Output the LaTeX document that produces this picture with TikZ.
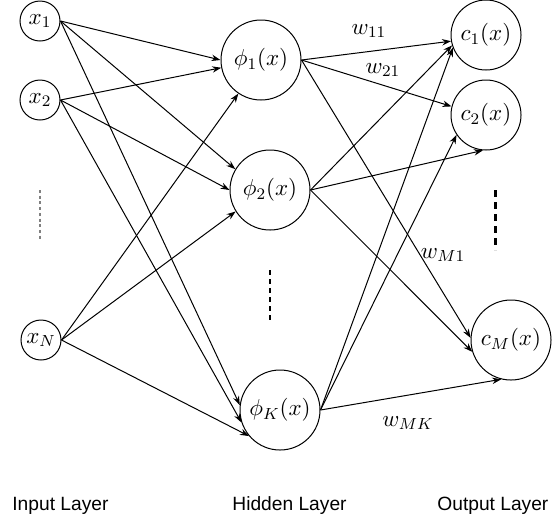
\RequirePackage{fix-cm}
\documentclass[tikz,border=0pt]{standalone}
\usepackage{fontspec}
\setsansfont{Liberation Sans}
\usetikzlibrary{arrows.meta}
\begin{document}
\begin{tikzpicture}[x=0.5pt,y=-0.5pt,
  neuron/.style={draw, circle, inner sep=0pt, line width=0.5pt, font=\fontsize{11.5}{13}\selectfont},
  conn/.style={-{Stealth[length=4.5pt,width=3.2pt]}, line width=0.5pt},
  wlab/.style={inner sep=0pt, font=\fontsize{11.5}{13}\selectfont},
  layerlab/.style={inner sep=0pt, anchor=west, font=\fontsize{9.6}{11}\selectfont\sffamily},
  dotsin/.style={draw=black!50, line width=0.9pt, dash pattern=on 1.5pt off 1.35pt},
  dotsbold/.style={draw=black, line width=1pt, dash pattern=on 2.5pt off 2pt},
  dotsout/.style={draw=black, line width=1.5pt, dash pattern=on 3.5pt off 2.5pt}]
\useasboundingbox (0,0) rectangle (560,521);

% input layer
\node[neuron, minimum size=20pt] (x1) at (40,21) {$x_1$};
\node[neuron, minimum size=20pt] (x2) at (40,100) {$x_2$};
\node[neuron, minimum size=20pt] (xN) at (41,340) {$x_N$};
% hidden layer
\node[neuron, minimum size=40pt] (p1) at (261,60) {$\phi_1(x)$};
\node[neuron, minimum size=40pt] (p2) at (270,190) {$\phi_2(x)$};
\node[neuron, minimum size=40pt] (pK) at (280,410) {$\phi_K(x)$};
% output layer
\node[neuron, minimum size=35pt] (c1) at (486,35) {$c_1(x)$};
\node[neuron, minimum size=35pt] (c2) at (486,115) {$c_2(x)$};
\node[neuron, minimum size=40pt] (cM) at (511,340) {$c_M(x)$};

% input -> hidden
\draw[conn] (x1.east) -- (p1.180);
\draw[conn] (x1.east) -- (p2.149);
\draw[conn] (x1.east) -- (pK.173);
\draw[conn] (x2.east) -- (p1.191);
\draw[conn] (x2.east) -- (p2.180);
\draw[conn] (x2.east) -- (pK.198);
\draw[conn] (xN.east) -- (p1.236);
\draw[conn] (xN.east) -- (p2.212);
\draw[conn] (xN.east) -- (pK.220);
% hidden -> output
\draw[conn] (p1.east) -- (c1.190);
\draw[conn] (p1.east) -- (c2.166);
\draw[conn] (p1.east) -- (cM.177);
\draw[conn] (p2.east) -- (c1.197);
\draw[conn] (p2.east) -- (c2.265);
\draw[conn] (p2.east) -- (cM.197);
\draw[conn] (pK.east) -- (c1.201);
\draw[conn] (pK.east) -- (c2.214);
\draw[conn] (pK.east) -- (cM.256);

% weight labels
\node[wlab] (w11) at (369,31) {$w_{11}$};
\node[wlab] (w21) at (383,70) {$w_{21}$};
\node[wlab] (wM1) at (443,255) {$w_{M1}$};
\node[wlab] (wMK) at (408,423) {$w_{MK}$};

% ellipsis marks
\coordinate (din1) at (40,190);
\coordinate (din2) at (40,241);
\coordinate (dh1) at (270,270);
\coordinate (dh2) at (270,320);
\coordinate (do1) at (495,190);
\coordinate (do2) at (495,250);
\draw[dotsin] (din1) -- (din2);
\draw[dotsbold] (dh1) -- (dh2);
\draw[dotsout] (do1) -- (do2);

% layer labels
\node[layerlab] (Lin) at (12,506) {Input Layer};
\node[layerlab] (Lhid) at (232,506) {Hidden Layer};
\node[layerlab] (Lout) at (437,506) {Output Layer};
\end{tikzpicture}
\end{document}
